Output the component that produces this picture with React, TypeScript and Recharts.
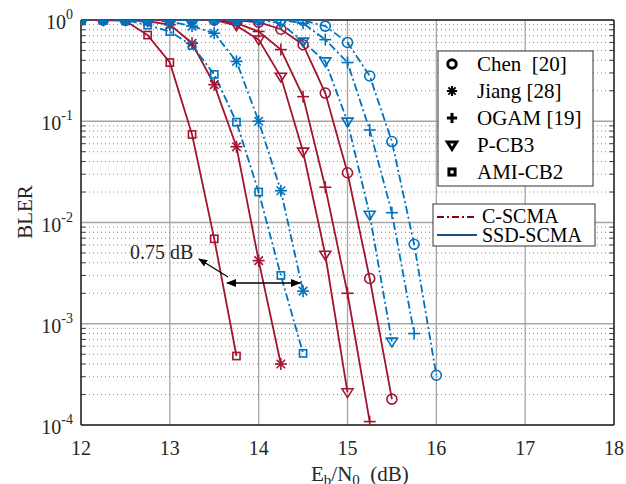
import React from 'react';
import { LineChart, Line, XAxis, YAxis, CartesianGrid, ReferenceLine } from 'recharts';

const RED = '#A2142F';
const BLUE = '#0072BD';
const FONT = '"Liberation Serif", "DejaVu Serif", serif';

// Eb/N0 (dB) grids
const snrA = [12, 12.25, 12.5, 12.75, 13, 13.25, 13.5, 13.75];
const snrJ = [12, 12.25, 12.5, 12.75, 13, 13.25, 13.5, 13.75, 14, 14.25];
const snrP = [12, 12.25, 12.5, 12.75, 13, 13.25, 13.5, 13.75, 14, 14.25, 14.5, 14.75, 15];
const snrO = [12, 12.25, 12.5, 12.75, 13, 13.25, 13.5, 13.75, 14, 14.25, 14.5, 14.75, 15, 15.25];
const snrC = [12, 12.25, 12.5, 12.75, 13, 13.25, 13.5, 13.75, 14, 14.25, 14.5, 14.75, 15, 15.25, 15.5];
const snrAb = [12, 12.25, 12.5, 12.75, 13, 13.25, 13.5, 13.75, 14, 14.25, 14.5];
const snrJb = [12, 12.25, 12.5, 12.75, 13, 13.25, 13.5, 13.75, 14, 14.25, 14.5];
const snrPb = [12, 12.25, 12.5, 12.75, 13, 13.25, 13.5, 13.75, 14, 14.25, 14.5, 14.75, 15, 15.25, 15.5];
const snrOb = [12, 12.25, 12.5, 12.75, 13, 13.25, 13.5, 13.75, 14, 14.25, 14.5, 14.75, 15, 15.25, 15.5, 15.75];
const snrCb = [12, 12.25, 12.5, 12.75, 13, 13.25, 13.5, 13.75, 14, 14.25, 14.5, 14.75, 15, 15.25, 15.5, 15.75, 16];

// BLER values (red = solid, blue = dash-dot)
const redAmi = [1, 1, 0.98, 0.71, 0.38, 0.074, 0.0069, 0.00048];
const redJiang = [1, 1, 1, 0.97, 0.9, 0.59, 0.23, 0.056, 0.0042, 0.0004];
const redPcb3 = [1, 1, 1, 1, 1, 1, 1, 0.88, 0.64, 0.275, 0.05, 0.0048, 0.00021];
const redOgam = [1, 1, 1, 1, 1, 1, 1, 0.93, 0.77, 0.51, 0.175, 0.0223, 0.002, 0.000108];
const redChen = [1, 1, 1, 1, 1, 1, 1, 0.99, 0.95, 0.81, 0.57, 0.19, 0.031, 0.0028, 0.00018];
const blueAmi = [1, 1, 1, 0.89, 0.77, 0.56, 0.29, 0.098, 0.02, 0.003, 0.00051];
const blueJiang = [1, 1, 1, 1, 0.97, 0.87, 0.74, 0.39, 0.1, 0.0206, 0.0021];
const bluePcb3 = [1, 1, 1, 1, 1, 1, 1, 1, 1, 0.93, 0.61, 0.39, 0.099, 0.0119, 0.000665];
const blueOgam = [1, 1, 1, 1, 1, 1, 1, 1, 1, 1, 0.93, 0.64, 0.38, 0.082, 0.0125, 0.0008];
const blueChen = [1, 1, 1, 1, 1, 1, 1, 1, 1, 1, 0.99, 0.87, 0.6, 0.28, 0.063, 0.0061, 0.00031];

const xTicks = [12, 13, 14, 15, 16, 17, 18];
const yTicks = [1e-4, 1e-3, 1e-2, 1e-1, 1];
const yExp = ['-4', '-3', '-2', '-1', '0'];
const minorMult = [2, 3, 4, 5, 6, 7, 8, 9];
const decades = [1e-4, 1e-3, 1e-2, 1e-1];
const minorY = decades.flatMap((d) => minorMult.map((m) => m * d));

type Shape = 'circle' | 'star' | 'plus' | 'tri' | 'square';

const mk = (x: number[], y: number[]) => x.map((v, i) => ({ x: v, y: y[i] }));

const series: { id: string; color: string; shape: Shape; dash?: string; data: { x: number; y: number }[] }[] = [
  { id: 'rA', color: RED, shape: 'square', data: mk(snrA, redAmi) },
  { id: 'rJ', color: RED, shape: 'star', data: mk(snrJ, redJiang) },
  { id: 'rP', color: RED, shape: 'tri', data: mk(snrP, redPcb3) },
  { id: 'rO', color: RED, shape: 'plus', data: mk(snrO, redOgam) },
  { id: 'rC', color: RED, shape: 'circle', data: mk(snrC, redChen) },
  { id: 'bA', color: BLUE, shape: 'square', dash: '8 3 2 3', data: mk(snrAb, blueAmi) },
  { id: 'bJ', color: BLUE, shape: 'star', dash: '8 3 2 3', data: mk(snrJb, blueJiang) },
  { id: 'bP', color: BLUE, shape: 'tri', dash: '8 3 2 3', data: mk(snrPb, bluePcb3) },
  { id: 'bO', color: BLUE, shape: 'plus', dash: '8 3 2 3', data: mk(snrOb, blueOgam) },
  { id: 'bC', color: BLUE, shape: 'circle', dash: '8 3 2 3', data: mk(snrCb, blueChen) },
];

function Marker({ shape, cx, cy, color, sw = 1.6, s = 1 }: { shape: Shape; cx: number; cy: number; color: string; sw?: number; s?: number }) {
  if (shape === 'circle') return <circle cx={cx} cy={cy} r={5 * s} fill="none" stroke={color} strokeWidth={sw} />;
  if (shape === 'square') return <rect x={cx - 3.6 * s} y={cy - 3.6 * s} width={7.2 * s} height={7.2 * s} fill="none" stroke={color} strokeWidth={sw} />;
  if (shape === 'tri') {
    const r = 5.5 * s;
    return <polygon points={`${cx - r},${cy - r * 0.65} ${cx + r},${cy - r * 0.65} ${cx},${cy + r * 0.95}`} fill="none" stroke={color} strokeWidth={sw} />;
  }
  if (shape === 'plus') {
    const r = 6 * s;
    return (
      <g stroke={color} strokeWidth={sw}>
        <line x1={cx - r} y1={cy} x2={cx + r} y2={cy} />
        <line x1={cx} y1={cy - r} x2={cx} y2={cy + r} />
      </g>
    );
  }
  const r = 6 * s;
  const d = r * 0.707;
  return (
    <g stroke={color} strokeWidth={sw}>
      <line x1={cx - r} y1={cy} x2={cx + r} y2={cy} />
      <line x1={cx} y1={cy - r} x2={cx} y2={cy + r} />
      <line x1={cx - d} y1={cy - d} x2={cx + d} y2={cy + d} />
      <line x1={cx - d} y1={cy + d} x2={cx + d} y2={cy - d} />
    </g>
  );
}

const YTick = (p: any) => {
  const idx = yTicks.findIndex((t) => Math.abs(Math.log10(t) - Math.log10(p.payload.value)) < 1e-6);
  const e = idx >= 0 ? yExp[idx] : '';
  return (
    <g>
      <text x={p.x - 8} y={p.y + 9} textAnchor="end" fontFamily={FONT} fontSize={20} fill="#262626">
        10<tspan dy={-10} fontSize={14}>{e}</tspan>
      </text>
    </g>
  );
};

const XTick = (p: any) => (
  <text x={p.x} y={p.y + 22} textAnchor="middle" fontFamily={FONT} fontSize={20} fill="#262626">
    {p.payload.value}
  </text>
);

const legendItems: { shape: Shape; label: string }[] = [
  { shape: 'circle', label: 'Chen  [20]' },
  { shape: 'star', label: 'Jiang [28]' },
  { shape: 'plus', label: 'OGAM [19]' },
  { shape: 'tri', label: 'P-CB3' },
  { shape: 'square', label: 'AMI-CB2' },
];

export default function App() {
  return (
    <div style={{ position: 'absolute', left: 0, top: 0, width: 626, height: 484, background: '#fff', overflow: 'hidden' }}>
      <LineChart width={626} height={484} margin={{ top: 20, right: 12, bottom: 29, left: 21 }}>
        <CartesianGrid stroke="#a6a6a6" strokeWidth={1.3} verticalValues={xTicks} horizontalValues={yTicks} />
        {minorY.map((v) => (
          <ReferenceLine key={'m' + v} y={v} stroke="#8c8c8c" strokeWidth={1} strokeDasharray="1 3" ifOverflow="hidden" />
        ))}
        {minorY.map((v) => (
          <ReferenceLine key={'tl' + v} segment={[{ x: 12, y: v }, { x: 12.05, y: v }]} stroke="#333" strokeWidth={1} />
        ))}
        {minorY.map((v) => (
          <ReferenceLine key={'tr' + v} segment={[{ x: 17.95, y: v }, { x: 18, y: v }]} stroke="#333" strokeWidth={1} />
        ))}
        <XAxis
          type="number"
          dataKey="x"
          domain={[12, 18]}
          ticks={xTicks}
          allowDataOverflow
          height={30}
          tickLine={false}
          axisLine={false}
          tick={XTick}
        />
        <YAxis
          type="number"
          dataKey="y"
          scale="log"
          domain={[1e-4, 1]}
          ticks={yTicks}
          allowDataOverflow
          width={60}
          tickLine={false}
          axisLine={false}
          tickSize={0}
          tickMargin={0}
          tick={YTick}
        />
        <ReferenceLine x={12} stroke="#262626" strokeWidth={1.5} />
        <ReferenceLine x={18} stroke="#262626" strokeWidth={1.5} />
        <ReferenceLine y={1e-4} stroke="#262626" strokeWidth={1.5} />
        <ReferenceLine y={1} stroke="#262626" strokeWidth={1.5} />
        {series.map((s) => (
          <Line
            key={s.id}
            data={s.data}
            dataKey="y"
            type="linear"
            stroke={s.color}
            strokeWidth={1.8}
            strokeDasharray={s.dash}
            isAnimationActive={false}
            dot={(p: any) => (
              <g key={s.id + '-' + p.index}>
                <Marker shape={s.shape} cx={p.cx} cy={p.cy} color={s.color} />
              </g>
            )}
            activeDot={false}
          />
        ))}
      </LineChart>
      <svg width={626} height={484} style={{ position: 'absolute', left: 0, top: 0, pointerEvents: 'none' }}>
        <defs>
          <marker id="ah" viewBox="0 0 10 10" refX="9" refY="5" markerWidth="7" markerHeight="7" orient="auto-start-reverse">
            <path d="M0,1 L10,5 L0,9 z" fill="#000" />
          </marker>
        </defs>
        {/* legend 1 */}
        <rect x={438} y={51} width={155} height={135} fill="#fff" stroke="#333" strokeWidth={1} />
        {legendItems.map((it, i) => (
          <g key={it.label}>
            <Marker shape={it.shape} cx={452} cy={64 + i * 27} color="#000" sw={it.shape === 'star' ? 2 : 3} s={0.85} />
            <text x={477} y={71 + i * 27} fontFamily={FONT} fontSize={21} fill="#000" style={{ whiteSpace: 'pre' }}>
              {it.label}
            </text>
          </g>
        ))}
        {/* legend 2 */}
        <rect x={433} y={204} width={162} height={42} fill="#fff" stroke="#333" strokeWidth={1} />
        <line x1={437} y1={217} x2={477} y2={217} stroke="#8B0000" strokeWidth={2} strokeDasharray="7 3 2 3" />
        <text x={482} y={223} fontFamily={FONT} fontSize={20} fill="#000">C-SCMA</text>
        <line x1={437} y1={235} x2={477} y2={235} stroke="#1F4E8C" strokeWidth={2} />
        <text x={482} y={242} fontFamily={FONT} fontSize={20} fill="#000">SSD-SCMA</text>
        {/* annotation */}
        <text x={130} y={259} fontFamily={FONT} fontSize={20} fill="#262626">0.75 dB</text>
        <line x1={227} y1={283} x2={300} y2={283} stroke="#000" strokeWidth={1.5} markerStart="url(#ah)" markerEnd="url(#ah)" />
        <line x1={228} y1={277} x2={199} y2={259} stroke="#000" strokeWidth={1.3} markerEnd="url(#ah)" />
        {/* axis labels */}
        <text transform="translate(32,212) rotate(-90)" textAnchor="middle" fontFamily={FONT} fontSize={21} fill="#262626">BLER</text>
        <text x={311} y={481} fontFamily={FONT} fontSize={21} fill="#262626" style={{ whiteSpace: 'pre' }}>
          E<tspan dy={4} fontSize={15}>b</tspan><tspan dy={-4}>/N</tspan><tspan dy={4} fontSize={15}>0</tspan><tspan dy={-4}>{'  (dB)'}</tspan>
        </text>
      </svg>
    </div>
  );
}
